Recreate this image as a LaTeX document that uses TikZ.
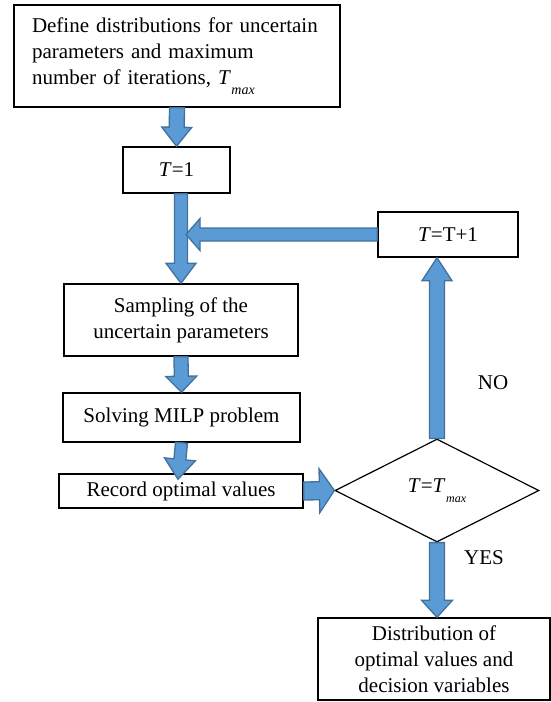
\documentclass[tikz,border=0pt]{standalone}
\usepackage{fontspec}
\setmainfont{Liberation Serif}
\usepackage{tikz}
\usetikzlibrary{shapes.geometric, calc, positioning}

\definecolor{arrowfill}{HTML}{5B9BD5}
\definecolor{arrowline}{HTML}{41719C}

% T with a low italic subscript "max"
\newcommand{\tmax}[1][14]{\textit{T}\kern0.5pt\raisebox{-10pt}{\fontsize{#1}{#1}\selectfont\itshape max}}

% block arrow: from, to, shaft half width, head half width, head length
\newcommand{\fatarrow}[5]{%
  \coordinate (fa-base) at ($#2!#5!#1$);
  \filldraw[fatarrow] ($#1!#3!90:#2$) -- ($(fa-base)!#3!90:#2$) -- ($(fa-base)!#4!90:#2$) -- #2
    -- ($(fa-base)!#4!-90:#2$) -- ($(fa-base)!#3!-90:#2$) -- ($#1!#3!-90:#2$) -- cycle;}

\begin{document}
\begin{tikzpicture}[
    x=1pt, y=-1pt,
    box/.style={rectangle, draw, line width=1.5pt, align=center, inner sep=0pt, font={\fontsize{21}{26}\selectfont}},
    decision/.style={diamond, draw, line width=1.2pt, minimum width=204pt, minimum height=103pt, inner sep=0pt, font={\fontsize{21}{26}\selectfont}},
    fatarrow/.style={fill=arrowfill, draw=arrowline, line width=1.3pt, line join=miter},
    lbl/.style={font={\fontsize{21}{26}\selectfont}}
]
\useasboundingbox (0,0) rectangle (551,702);

% left column
\node[box, align=left, text width=290pt, minimum width=326pt, minimum height=102pt] (define) at (177,56)
  {Define distributions for uncertain\\parameters and maximum\\number of iterations, \tmax};
\node[box, minimum width=107pt, minimum height=46pt] (tone) at (176.5,170) {\textit{T}=1};
\node[box, minimum width=234pt, minimum height=72pt] (sampling) at (181,320) {Sampling of the\\uncertain parameters};
\node[box, minimum width=237pt, minimum height=49pt] (solving) at (181.5,417.5) {Solving MILP problem};
\node[box, minimum width=244pt, minimum height=34pt] (record) at (181,491) {Record optimal values};

% right column
\node[box, minimum width=140pt, minimum height=45pt] (tinc) at (448,234.5) {\textit{T}=T+1};
\node[decision] (check) at (437,490.5) {\textit{T}=\tmax[12]};
\node[box, minimum width=232pt, minimum height=82pt] (result) at (434,659) {Distribution of\\optimal values and\\decision variables};

\node[lbl] (no) at (493,383) {NO};
\node[lbl] (yes) at (484,558) {YES};

% arrow ends
\coordinate (stwo) at (sampling.north |- tone.south);
\coordinate (rectop) at ($(record.north)+(-3,6)$);
\coordinate (upend) at (check.north |- tinc.south);
\coordinate (downend) at (check.south |- result.north);
\coordinate (merge) at ($(sampling.north |- tinc.west)+(5,0)$);

% arrows
\fatarrow{(define.south)}{(tone.north)}{7.5pt}{15pt}{19pt}
\fatarrow{(stwo)}{(sampling.north)}{6.5pt}{15pt}{20pt}
\fatarrow{(sampling.south)}{(solving.north)}{7pt}{15.5pt}{16pt}
\fatarrow{(solving.south)}{(rectop)}{6pt}{15.5pt}{20pt}
\fatarrow{(record.east)}{(check.west)}{9pt}{22pt}{15pt}
\fatarrow{(check.north)}{(upend)}{7.5pt}{15pt}{23pt}
\fatarrow{(tinc.west)}{(merge)}{6.5pt}{16pt}{14pt}
\fatarrow{(check.south)}{(downend)}{7.5pt}{15.5pt}{17pt}

\end{tikzpicture}
\end{document}
